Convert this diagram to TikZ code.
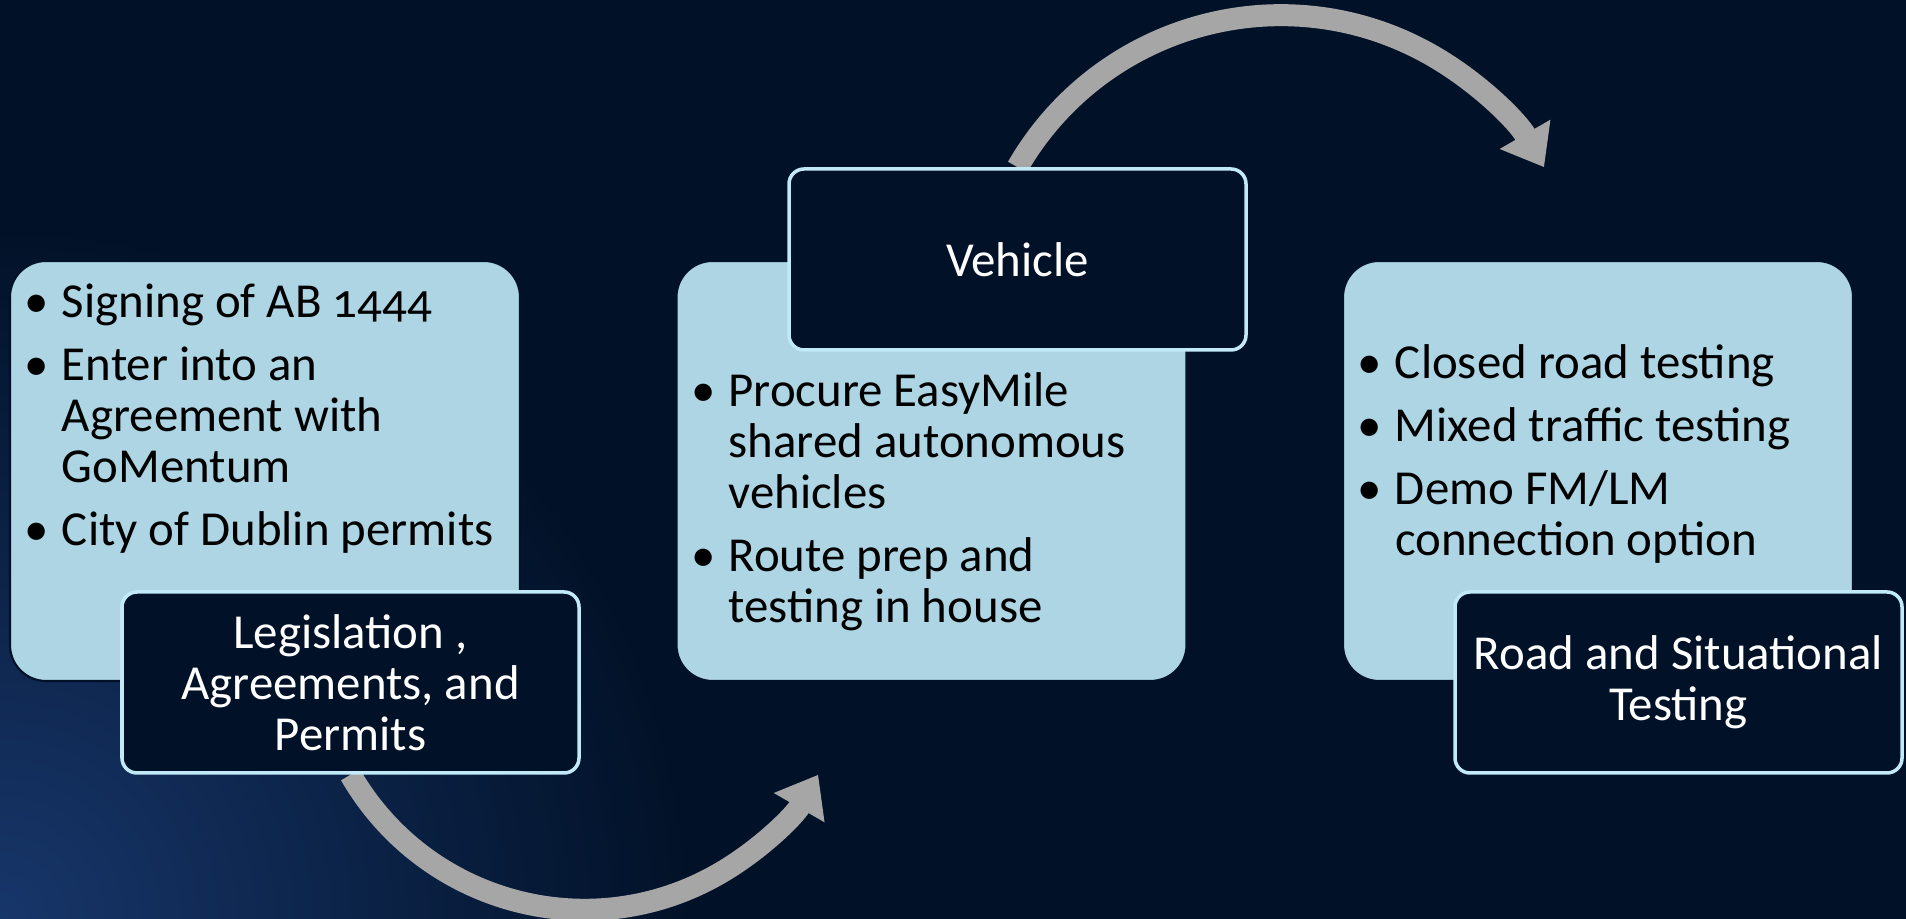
\documentclass[tikz,border=0pt]{standalone}
\usepackage{fontspec}
\setmainfont{Carlito}[Numbers=OldStyle]
\usetikzlibrary{arrows.meta}
\definecolor{navy}{HTML}{011127}
\definecolor{glow}{HTML}{17366A}
\definecolor{paleblue}{HTML}{ADD5E3}
\definecolor{edgeblue}{HTML}{C1E9F8}
\definecolor{arrowgray}{HTML}{A6A6A6}
\pgfdeclarelayer{back}
\pgfdeclarelayer{arrows}
\pgfsetlayers{back,arrows,main}

\begin{document}
\begin{tikzpicture}[font=\fontsize{13.9}{14.5}\selectfont,
panel/.style={fill=paleblue,draw=navy,line width=0.6pt,rounded corners=0.36cm,minimum width=5.1cm,minimum height=4.2cm},
tag/.style={fill=navy,draw=edgeblue,line width=1pt,rounded corners=0.15cm,minimum height=1.81cm,text=white,align=center,inner sep=0pt},
bullets/.style={anchor=north west,inner sep=0pt,text=black},
turn/.style={draw=arrowgray,line width=0.22cm,-{Triangle[length=0.38cm,width=0.56cm]}}]
\useasboundingbox (0,0) rectangle (19.06,9.19);
% background
\begin{pgfonlayer}{back}
\fill[navy] (0,0) rectangle (19.06,9.19);
\begin{scope}
\clip (0,0) rectangle (19.06,9.19);
\shade[inner color=glow,outer color=navy] (0,0) circle (7cm);
\end{scope}
\end{pgfonlayer}

% panels
\node[panel] (legpanel) at (2.65,4.48) {};
\node[panel] (carpanel) at (9.315,4.48) {};
\node[panel] (roadpanel) at (15.98,4.48) {};

\node[bullets] (legtext) at ([shift={(0.15,-0.21)}]legpanel.north west)
{\begin{tabular}{@{}l@{\hspace{0.13cm}}l@{}}
• & Signing of AB 1444\\[3.5pt]
• & Enter into an\\
  & Agreement with\\
  & GoMentum\\[3.5pt]
• & City of Dublin permits
\end{tabular}};
\node[bullets] (cartext) at ([shift={(0.15,-1.1)}]carpanel.north west)
{\begin{tabular}{@{}l@{\hspace{0.13cm}}l@{}}
• & Procure EasyMile\\
  & shared autonomous\\
  & vehicles\\[3.5pt]
• & Route prep and\\
  & testing in house
\end{tabular}};
\node[bullets] (roadtext) at ([shift={(0.15,-0.82)}]roadpanel.north west)
{\begin{tabular}{@{}l@{\hspace{0.13cm}}l@{}}
• & Closed road testing\\[3.5pt]
• & Mixed traffic testing\\[3.5pt]
• & Demo FM/LM\\
  & connection option
\end{tabular}};

% labels
\node[tag,minimum width=4.57cm] (legtag) at (3.505,2.365) {Legislation ,\\Agreements, and\\Permits};
\node[tag,minimum width=4.57cm] (vehicle) at (10.175,6.595) {Vehicle};
\node[tag,minimum width=4.47cm] (roadtag) at (16.785,2.365) {Road and Situational\\Testing};

% arrows
\begin{pgfonlayer}{arrows}
\draw[turn] (legtag.south) arc[start angle=210,end angle=330,radius=2.7cm];
\draw[turn] (vehicle.north) arc[start angle=150,end angle=30,radius=3.04cm];
\end{pgfonlayer}
\end{tikzpicture}
\end{document}
